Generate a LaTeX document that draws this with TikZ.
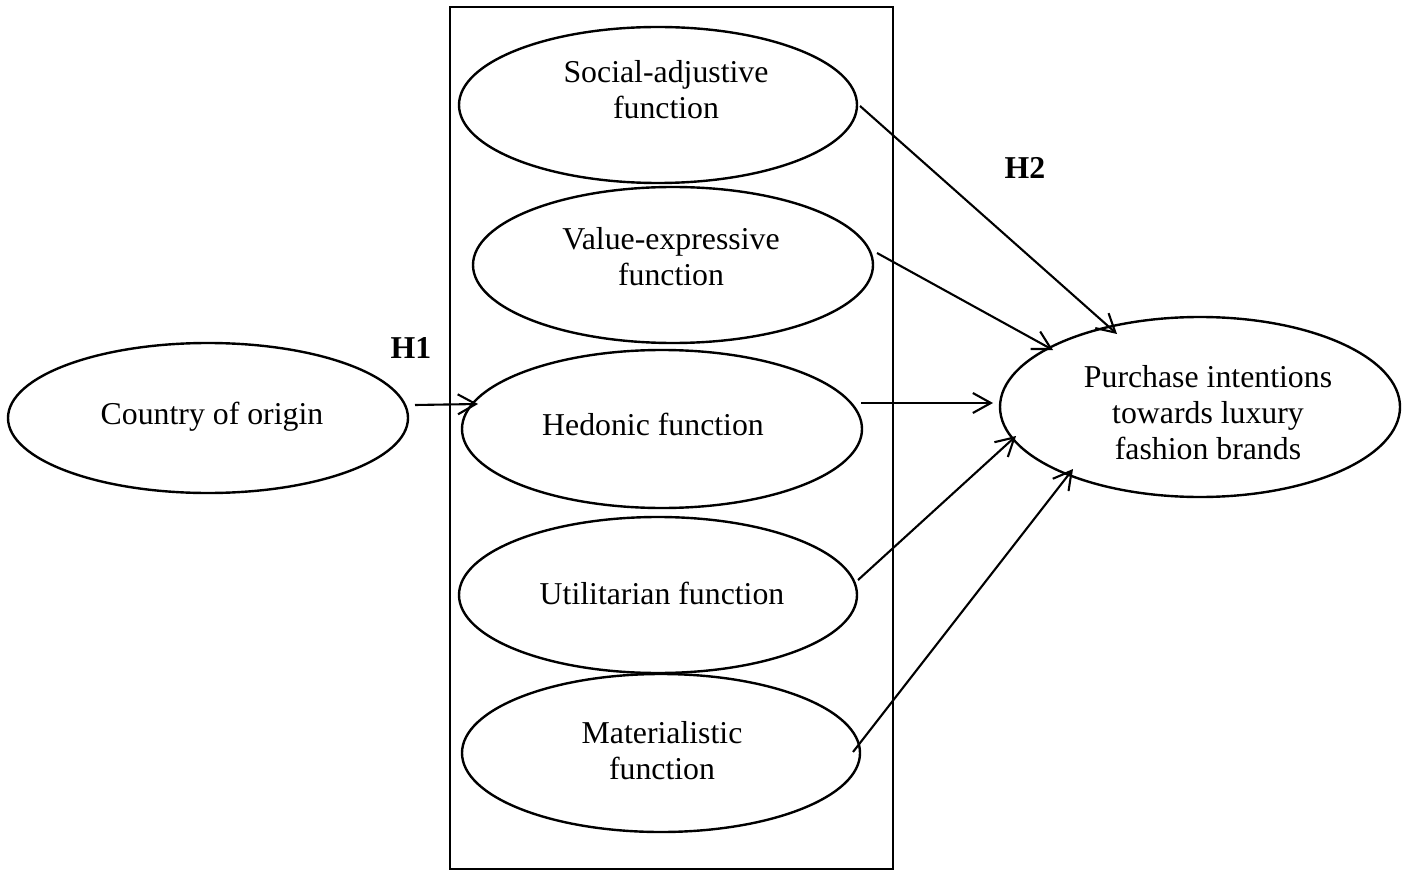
\documentclass[tikz,border=0pt]{standalone}
\usepackage{fontspec}
\setmainfont{Liberation Serif}
\usetikzlibrary{shapes.geometric,arrows.meta,calc}
\begin{document}
\begin{tikzpicture}[x=0.5pt,y=-0.5pt,
  ell/.style 2 args={draw,ellipse,line width=1.2pt,inner sep=0pt,outer sep=0pt,minimum width=#1pt,minimum height=#2pt},
  lbl/.style={font=\fontsize{15.9}{18}\selectfont,align=center,inner sep=0pt},
  hyp/.style={font=\fontsize{15.9}{18}\selectfont\bfseries,inner sep=0pt},
  arr/.style={line width=1.05pt,-{Straight Barb[length=9pt,width=10pt,line width=1.05pt]}},
  frame/.style={draw,line width=1.3pt,inner sep=0pt,minimum width=221.5pt,minimum height=431pt}]
\useasboundingbox (0,0) rectangle (1411,871);
% frame
\node[frame] (box) at (671.5,438) {};
% ellipses (size in pt = size in px / 2)
\node[ell={200}{75}] (co) at (208,418) {};
\node[ell={199}{78}] (soc) at (658,105) {};
\node[ell={200}{78}] (val) at (673,265) {};
\node[ell={200}{79}] (hed) at (662,429) {};
\node[ell={199}{78}] (uti) at (658,595) {};
\node[ell={199}{79}] (mat) at (661,753) {};
\node[ell={200}{90}] (pur) at (1200,407) {};
% texts
\node[lbl] (coT) at (212,417) {Country of origin};
\node[lbl] (socT) at (666,90) {Social-adjustive\\function};
\node[lbl] (valT) at (671,257) {Value-expressive\\function};
\node[lbl] (hedT) at (653,424) {Hedonic function};
\node[lbl] (utiT) at (662,593) {Utilitarian function};
\node[lbl] (matT) at (662,751) {Materialistic\\function};
\node[lbl] (purT) at (1208,413) {Purchase intentions\\towards luxury\\fashion brands};
\node[hyp] (h1) at (411,348) {H1};
\node[hyp] (h2) at (1025,168) {H2};
% connectors
\draw[arr] ($(co)+(207,-13)$) -- ($(hed)+(-184,-25)$);
\draw[arr] ($(soc)+(202,1)$) -- ($(pur)+(-83,-73)$);
\draw[arr] ($(val)+(204,-12)$) -- ($(pur)+(-147,-57)$);
\draw[arr] ($(hed)+(199,-26)$) -- ($(pur)+(-207,-4)$);
\draw[arr] ($(uti)+(200,-15)$) -- ($(pur)+(-184,29)$);
\draw[arr] ($(mat)+(192,-1)$) -- ($(pur)+(-127,62)$);
\end{tikzpicture}
\end{document}
